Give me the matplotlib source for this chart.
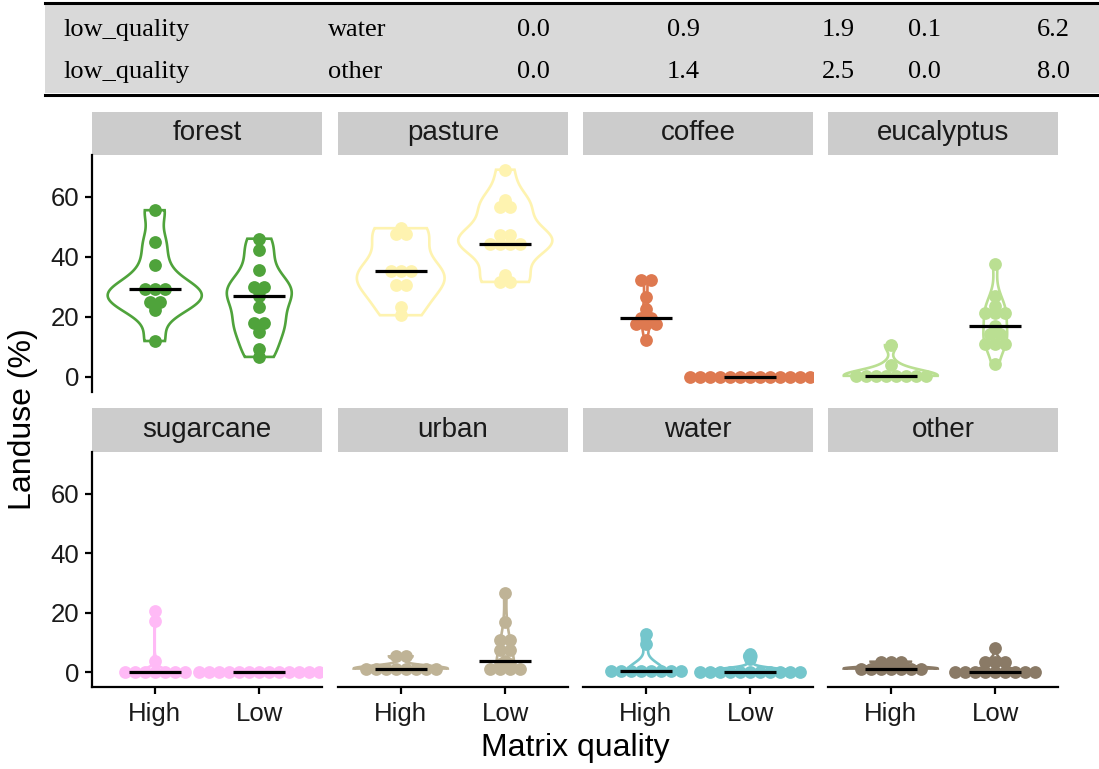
import numpy as np
import matplotlib
matplotlib.use("Agg")
import matplotlib.pyplot as plt
from matplotlib.patches import Rectangle

# table fragment at the top
tbl_group = ["low_quality", "low_quality"]
tbl_landuse = ["water", "other"]
tbl_min = ["0.0", "0.0"]
tbl_mean = ["0.9", "1.4"]
tbl_sd = ["1.9", "2.5"]
tbl_median = ["0.1", "0.0"]
tbl_max = ["6.2", "8.0"]

landuses = ["forest", "pasture", "coffee", "eucalyptus",
            "sugarcane", "urban", "water", "other"]
qualities = ["High", "Low"]
colors = ["#4FA33B", "#FEF3B0", "#DE7950", "#BADF92",
          "#FFBAF6", "#BFB396", "#74C6CC", "#8A7A66"]

# landuse (%) per site, High / Low matrix quality
forest_high = [55.6, 45.0, 37.2, 29.4, 29.4, 29.4, 25.0, 25.0, 22.2, 12.0]
forest_low = [46.1, 42.2, 35.8, 30.0, 30.0, 28.6, 26.9, 23.3, 18.0, 18.0, 15.0, 9.4, 6.7]
pasture_high = [49.6, 47.6, 47.6, 35.2, 35.2, 35.2, 30.8, 30.8, 23.3, 20.6]
pasture_low = [69.1, 58.9, 56.7, 56.7, 47.2, 47.2, 44.5, 44.5, 44.5, 44.5, 33.9, 31.7, 31.7]
coffee_high = [32.4, 32.4, 26.7, 22.8, 19.6, 19.6, 17.6, 17.6, 17.6, 12.2]
coffee_low = [0.0, 0.0, 0.0, 0.0, 0.0, 0.0, 0.0, 0.0, 0.0, 0.0, 0.0, 0.0, 0.0]
eucalyptus_high = [10.6, 4.0, 0.4, 0.4, 0.4, 0.4, 0.4, 0.4, 0.4, 0.4]
eucalyptus_low = [37.8, 27.0, 23.6, 21.3, 21.3, 21.3, 16.9, 14.4, 14.4, 11.1, 11.1, 11.1, 4.4]
sugarcane_high = [20.7, 17.3, 3.8, 0.0, 0.0, 0.0, 0.0, 0.0, 0.0, 0.0]
sugarcane_low = [0.0, 0.0, 0.0, 0.0, 0.0, 0.0, 0.0, 0.0, 0.0, 0.0, 0.0, 0.0, 0.0]
urban_high = [5.3, 5.3, 1.2, 1.2, 1.2, 1.2, 1.2, 1.2, 1.2, 1.2]
urban_low = [26.6, 17.0, 10.7, 10.7, 7.6, 7.6, 3.8, 2.7, 2.7, 0.9, 0.9, 0.9, 0.9]
water_high = [12.9, 9.6, 0.5, 0.5, 0.5, 0.5, 0.5, 0.5, 0.5, 0.5]
water_low = [6.2, 4.4, 0.1, 0.1, 0.1, 0.1, 0.1, 0.1, 0.1, 0.1, 0.1, 0.1, 0.1]
other_high = [3.5, 3.5, 3.5, 1.2, 1.2, 1.2, 1.2, 1.2, 1.2, 1.2]
other_low = [8.0, 3.4, 3.4, 3.4, 0.0, 0.0, 0.0, 0.0, 0.0, 0.0, 0.0, 0.0, 0.0]

data = {
    "forest": (forest_high, forest_low),
    "pasture": (pasture_high, pasture_low),
    "coffee": (coffee_high, coffee_low),
    "eucalyptus": (eucalyptus_high, eucalyptus_low),
    "sugarcane": (sugarcane_high, sugarcane_low),
    "urban": (urban_high, urban_low),
    "water": (water_high, water_low),
    "other": (other_high, other_low),
}

W, H = 1099, 769
SANS = "Liberation Sans"
SERIF = "Liberation Serif"


def rect(x0, y0, x1, y1):
    # pixel box (top-left origin) -> figure fraction
    return [x0 / W, 1 - y1 / H, (x1 - x0) / W, (y1 - y0) / H]


def bw_nrd0(x):
    x = np.asarray(x, float)
    hi = np.std(x, ddof=1)
    q75, q25 = np.percentile(x, [75, 25])
    lo = min(hi, (q75 - q25) / 1.34)
    if not lo:
        lo = hi or abs(x[0]) or 1.0
    return 0.9 * lo * len(x) ** -0.2


def violin_density(x):
    x = np.asarray(x, float)
    bw = bw_nrd0(x)
    grid = np.linspace(x.min(), x.max(), 512)
    dens = np.exp(-0.5 * ((grid[:, None] - x[None, :]) / bw) ** 2).sum(1)
    dens = dens / (len(x) * bw * np.sqrt(2 * np.pi))
    return grid, dens


def dot_positions(vals, pos, step):
    vals = np.asarray(vals, float)
    xs, ys = [], []
    for v in np.unique(vals):
        n = int((vals == v).sum())
        off = (np.arange(n) - (n - 1) / 2) * step
        xs.extend(pos + off)
        ys.extend([v] * n)
    return xs, ys


fig = plt.figure(figsize=(W / 100, H / 100), dpi=100)

# --- table fragment ---
tax = fig.add_axes([0, 0, 1, 1], zorder=-1)
tax.set_xlim(0, W)
tax.set_ylim(H, 0)
tax.axis("off")
tax.add_patch(Rectangle((45, 4), W - 45, 89, facecolor="#D9D9D9", edgecolor="none"))
tax.plot([45, W], [2.5, 2.5], color="black", lw=2.2)
tax.plot([45, W], [94.5, 94.5], color="black", lw=2.2)
row_y = [30, 72]
for i in range(2):
    kw = dict(fontsize=19, family=SERIF, va="center", color="black")
    tax.text(63, row_y[i], tbl_group[i], ha="left", **kw)
    tax.text(328, row_y[i], tbl_landuse[i], ha="left", **kw)
    tax.text(550, row_y[i], tbl_min[i], ha="right", **kw)
    tax.text(700, row_y[i], tbl_mean[i], ha="right", **kw)
    tax.text(855, row_y[i], tbl_sd[i], ha="right", **kw)
    tax.text(941, row_y[i], tbl_median[i], ha="right", **kw)
    tax.text(1070, row_y[i], tbl_max[i], ha="right", **kw)

# --- facet panels ---
col_x = [(92, 322), (338, 568), (583, 813), (828, 1058)]
row_y = [(112, 155, 392), (408, 452, 687)]
dot_step = 0.096

for k, lu in enumerate(landuses):
    r, c = divmod(k, 4)
    x0, x1 = col_x[c]
    s0, p0, p1 = row_y[r]

    sax = fig.add_axes(rect(x0, s0, x1, p0))
    sax.set_facecolor("#CCCCCC")
    sax.set_xticks([])
    sax.set_yticks([])
    for sp in sax.spines.values():
        sp.set_visible(False)
    sax.text(0.5, 0.5, lu, transform=sax.transAxes, ha="center", va="center",
             fontsize=20, family=SANS, color="#1A1A1A")

    ax = fig.add_axes(rect(x0, p0, x1, p1))
    ax.set_xlim(0.4, 2.6)
    ax.set_ylim(-5, 74)
    ax.patch.set_alpha(0)
    for side in ["top", "right"]:
        ax.spines[side].set_visible(False)
    ax.spines["left"].set_visible(c == 0)
    ax.spines["bottom"].set_visible(r == 1)
    for sp in ax.spines.values():
        sp.set_linewidth(1.6)

    col = colors[k]
    groups = data[lu]
    dens = [violin_density(g) for g in groups]
    dmax = max(d.max() for _, d in dens)
    for j, (g, (grid, d)) in enumerate(zip(groups, dens)):
        pos = j + 1
        half = d / dmax * 0.45
        px = np.concatenate([pos - half, (pos + half)[::-1], [pos - half[0]]])
        py = np.concatenate([grid, grid[::-1], [grid[0]]])
        ax.fill(px, py, facecolor="white", edgecolor=col, lw=1.9, zorder=2)
        xs, ys = dot_positions(g, pos, dot_step)
        ax.plot(xs, ys, "o", ms=9.2, color=col, mec="none", zorder=3)
        med = np.median(g)
        ax.plot([pos - 0.25, pos + 0.25], [med, med], color="black", lw=2.3,
                solid_capstyle="butt", zorder=4)

    ax.tick_params(length=5, width=1.6, labelsize=18.5, color="black",
                   labelcolor="#1A1A1A", pad=4)
    if c == 0:
        ax.set_yticks([0, 20, 40, 60])
        for t in ax.get_yticklabels():
            t.set_family(SANS)
    else:
        ax.set_yticks([])
    if r == 1:
        ax.set_xticks([1, 2])
        ax.set_xticklabels(qualities, family=SANS)
        ax.tick_params(axis="x", pad=6)
    else:
        ax.set_xticks([])

fig.text(23 / W, 1 - 419 / H, "Landuse (%)", rotation=90, ha="center", va="center",
         fontsize=23, family=SANS, color="black")
fig.text(575 / W, 1 - 748 / H, "Matrix quality", ha="center", va="center",
         fontsize=23, family=SANS, color="black")

fig.savefig("out.png", dpi=100)
